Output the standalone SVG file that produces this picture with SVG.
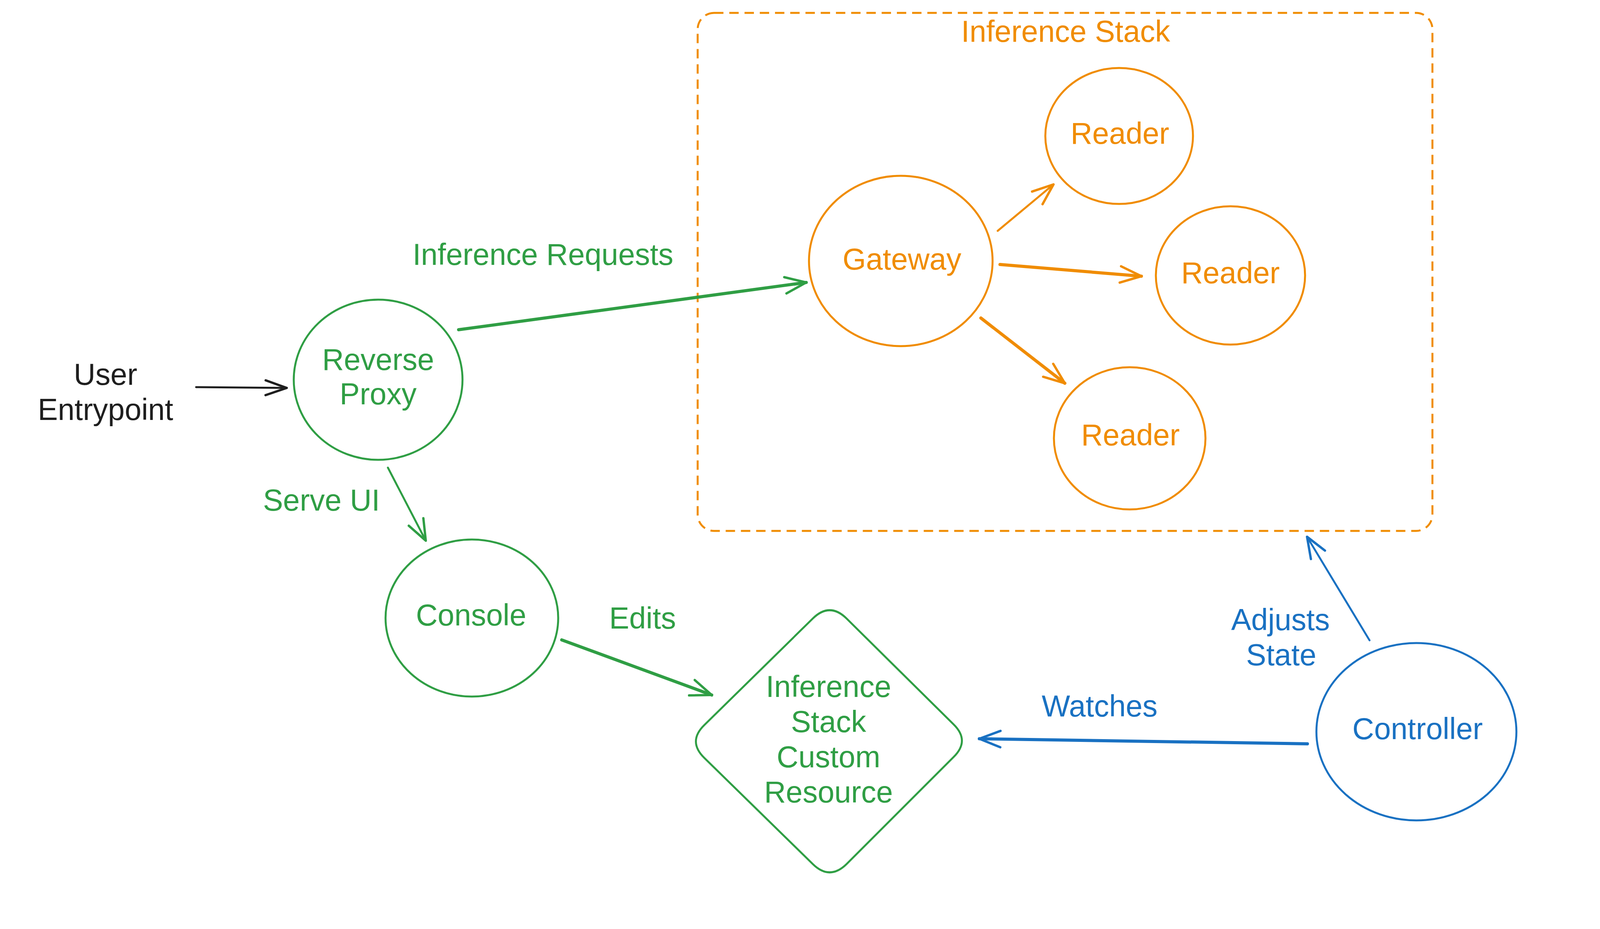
<svg xmlns="http://www.w3.org/2000/svg" width="4221" height="2378" viewBox="0 0 4221 2378">
  <style>
    text { font-family: "Liberation Sans", Arial, sans-serif; font-size: 77px; text-anchor: middle; }
    .green { fill: #2f9e44; }
    .orange { fill: #f08c00; }
    .blue { fill: #1971c2; }
    .black { fill: #1e1e1e; }
    .node-g { fill: none; stroke: #2f9e44; stroke-width: 5; }
    .node-o { fill: none; stroke: #f08c00; stroke-width: 5; }
    .node-b { fill: none; stroke: #1971c2; stroke-width: 5; }
    .frame { fill: none; stroke: #f08c00; stroke-width: 5; stroke-dasharray: 24 15; }
    .c { fill: none; stroke-linecap: round; }
    .cg { stroke: #2f9e44; }
    .co { stroke: #f08c00; }
    .cb { stroke: #1971c2; }
    .ck { stroke: #1e1e1e; }
    .thin { stroke-width: 5; }
    .thick { stroke-width: 8; }
  </style>
  <defs>
    <marker id="ah-g" markerUnits="userSpaceOnUse" markerWidth="120" markerHeight="120" refX="0" refY="0" orient="auto" overflow="visible">
      <path d="M -54 -21 L 0 0 L -54 21" fill="none" stroke="#2f9e44" stroke-width="6" stroke-linecap="round" stroke-linejoin="round"/>
    </marker>
    <marker id="ah-o" markerUnits="userSpaceOnUse" markerWidth="120" markerHeight="120" refX="0" refY="0" orient="auto" overflow="visible">
      <path d="M -54 -21 L 0 0 L -54 21" fill="none" stroke="#f08c00" stroke-width="6" stroke-linecap="round" stroke-linejoin="round"/>
    </marker>
    <marker id="ah-b" markerUnits="userSpaceOnUse" markerWidth="120" markerHeight="120" refX="0" refY="0" orient="auto" overflow="visible">
      <path d="M -54 -21 L 0 0 L -54 21" fill="none" stroke="#1971c2" stroke-width="6" stroke-linecap="round" stroke-linejoin="round"/>
    </marker>
    <marker id="ah-k" markerUnits="userSpaceOnUse" markerWidth="120" markerHeight="120" refX="0" refY="0" orient="auto" overflow="visible">
      <path d="M -54 -19 L 0 0 L -54 19" fill="none" stroke="#1e1e1e" stroke-width="6" stroke-linecap="round" stroke-linejoin="round"/>
    </marker>
  </defs>
  <rect width="4221" height="2378" fill="#ffffff"/>

  <g id="inference-stack-frame">
    <rect class="frame" x="1786" y="33" width="1881" height="1326" rx="42" ry="42"/>
    <text class="orange" x="2728" y="107">Inference Stack</text>
  </g>

  <g id="user-entrypoint">
    <text class="black" x="270" y="985">User</text>
    <text class="black" x="270" y="1075">Entrypoint</text>
  </g>

  <g id="reverse-proxy">
    <ellipse class="node-g" cx="968" cy="972" rx="216" ry="205"/>
    <text class="green" x="968" y="947">Reverse</text>
    <text class="green" x="968" y="1035">Proxy</text>
  </g>

  <g id="console">
    <ellipse class="node-g" cx="1208" cy="1582" rx="221" ry="201"/>
    <text class="green" x="1206" y="1601">Console</text>
  </g>

  <g id="inference-stack-cr">
    <path class="node-g" d="M 2167 1583 L 2441 1854 Q 2484 1896 2441 1938 L 2167 2212 Q 2124 2254 2081 2212 L 1803 1940 Q 1760 1898 1803 1856 L 2081 1583 Q 2124 1541 2167 1583 Z"/>
    <text class="green" x="2121" y="1784">Inference</text>
    <text class="green" x="2121" y="1874">Stack</text>
    <text class="green" x="2121" y="1964">Custom</text>
    <text class="green" x="2121" y="2054">Resource</text>
  </g>

  <g id="gateway">
    <ellipse class="node-o" cx="2306" cy="668" rx="235" ry="218"/>
    <text class="orange" x="2309" y="690">Gateway</text>
  </g>

  <g id="reader-1">
    <ellipse class="node-o" cx="2865" cy="348" rx="189" ry="174"/>
    <text class="orange" x="2867" y="368">Reader</text>
  </g>

  <g id="reader-2">
    <ellipse class="node-o" cx="3150" cy="705" rx="191" ry="177"/>
    <text class="orange" x="3150" y="725">Reader</text>
  </g>

  <g id="reader-3">
    <ellipse class="node-o" cx="2892" cy="1122" rx="194" ry="182"/>
    <text class="orange" x="2894" y="1140">Reader</text>
  </g>

  <g id="controller">
    <ellipse class="node-b" cx="3626" cy="1873" rx="256" ry="227"/>
    <text class="blue" x="3629" y="1892">Controller</text>
  </g>

  <g id="connectors">
    <path class="c ck thin" d="M 502 991 L 734 993" marker-end="url(#ah-k)"/>
    <path class="c cg thick" d="M 1174 844 L 2064 723" marker-end="url(#ah-g)"/>
    <text class="green" x="1390" y="678">Inference Requests</text>
    <path class="c cg thin" d="M 993 1197 L 1090 1384" marker-end="url(#ah-g)"/>
    <text class="green" x="823" y="1307">Serve UI</text>
    <path class="c cg thick" d="M 1438 1638 L 1822 1779" marker-end="url(#ah-g)"/>
    <text class="green" x="1645" y="1609">Edits</text>
    <path class="c co thin" d="M 2554 591 L 2697 472" marker-end="url(#ah-o)"/>
    <path class="c co thick" d="M 2560 677 L 2922 707" marker-end="url(#ah-o)"/>
    <path class="c co thick" d="M 2511 814 L 2726 981" marker-end="url(#ah-o)"/>
    <path class="c cb thick" d="M 3347 1904 L 2507 1891" marker-end="url(#ah-b)"/>
    <text class="blue" x="2815" y="1834">Watches</text>
    <path class="c cb thin" d="M 3506 1639 L 3346 1374" marker-end="url(#ah-b)"/>
    <text class="blue" x="3278" y="1613">Adjusts</text>
    <text class="blue" x="3280" y="1703">State</text>
  </g>
</svg>
